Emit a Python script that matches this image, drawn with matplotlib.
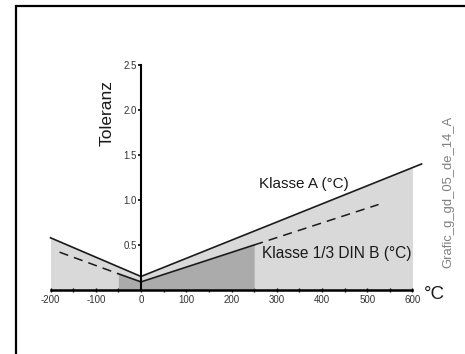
import matplotlib
matplotlib.use("Agg")
import matplotlib.pyplot as plt
from matplotlib.patches import Rectangle
import numpy as np

plt.rcParams['font.family'] = ['Liberation Sans', 'DejaVu Sans']

# Data
klasse_a_t = [-200, 0, 620]
klasse_a_v = [0.58, 0.15, 1.40]
klasse_b_t = [-180, -50, 0, 250, 525]
klasse_b_v = [0.42, 0.18, 0.09, 0.50, 0.95]
light_range = [-200, 600]
dark_range = [-50, 250]
x_ticks = [-200, -100, 0, 100, 200, 300, 400, 500, 600]
x_tick_labels = ["-200", "-100", "0", "100", "200", "300", "400", "500", "600"]
y_ticks = [0.5, 1.0, 1.5, 2.0, 2.5]
y_tick_labels = ["0.5", "1.0", "1.5", "2.0", "2.5"]

fig = plt.figure(figsize=(4.65, 3.54), dpi=100)
ax = fig.add_axes([0.0989, 0.1681, 0.8271, 0.6737])
ax.set_xlim(-210, 640)
ax.set_ylim(-0.05, 2.6)

# light fill under Klasse A
tl = np.linspace(light_range[0], light_range[1], 200)
tl = np.union1d(tl, [0])
ax.fill_between(tl, 0, np.interp(tl, klasse_a_t, klasse_a_v), color='#d9d9d9', lw=0, zorder=1)
# dark fill under Klasse B
td = np.linspace(dark_range[0], dark_range[1], 200)
td = np.union1d(td, [0])
ax.fill_between(td, 0, np.interp(td, klasse_b_t, klasse_b_v), color='#ababab', lw=0, zorder=2)

# Lines
ax.plot(klasse_a_t, klasse_a_v, color='#1a1a1a', lw=1.2, zorder=4, solid_joinstyle='miter')
ax.plot(klasse_b_t[1:4], klasse_b_v[1:4], color='#1a1a1a', lw=1.2, zorder=4)
ax.plot(klasse_b_t[0:2], klasse_b_v[0:2], color='#1a1a1a', lw=1.1, dashes=(6, 4), zorder=4)
ax.plot(klasse_b_t[3:5], klasse_b_v[3:5], color='#1a1a1a', lw=1.1, dashes=(6, 4), zorder=4)

# Spines
for s in ['top', 'right']:
    ax.spines[s].set_visible(False)
ax.spines['left'].set_position(('data', 0))
ax.spines['bottom'].set_position(('data', 0))
ax.spines['left'].set_bounds(0, 2.5)
ax.spines['bottom'].set_bounds(-200, 600)
ax.spines['left'].set_linewidth(1.5)
ax.spines['bottom'].set_linewidth(1.8)
ax.spines['left'].set_zorder(5)
ax.spines['bottom'].set_zorder(5)

ax.set_xticks(x_ticks)
ax.set_xticklabels(x_tick_labels)
ax.set_xticks([-150, -50, 50, 150, 250, 350, 450, 550], minor=True)
ax.set_yticks(y_ticks)
ax.set_yticklabels(y_tick_labels)
ax.tick_params(axis='x', which='both', direction='inout', length=3, width=1, pad=2,
               labelsize=7, labelcolor='#333333')
ax.tick_params(axis='y', which='both', direction='out', length=2, width=1.2, pad=1,
               labelsize=7, labelcolor='#333333')
ax.patch.set_visible(False)

# Texts
ax.text(-75, 1.97, "Toleranz", rotation=90, ha='center', va='center', fontsize=12.5, color='#1a1a1a')
ax.text(261, 1.18, "Klasse A (°C)", ha='left', va='center', fontsize=11, color='#1a1a1a', zorder=6)
ax.text(267, 0.40, "Klasse 1/3 DIN B (°C)", ha='left', va='center', fontsize=11.2, color='#1a1a1a', zorder=6)
ax.text(625, -0.055, "°C", ha='left', va='center', fontsize=13.5, color='#1a1a1a')
fig.text(448 / 465, 1 - 191.5 / 354, "Grafic_g_gd_05_de_14_A", rotation=90, ha='center', va='center',
         fontsize=9.4, color='#808080')

# Border frame
fig.add_artist(Rectangle((15.5 / 465, -0.2), 1.2, 0.2 + (354 - 5.5) / 354, fill=False, lw=1.6,
                         edgecolor='black', transform=fig.transFigure, clip_on=False))

fig.savefig("out.png", dpi=100)
